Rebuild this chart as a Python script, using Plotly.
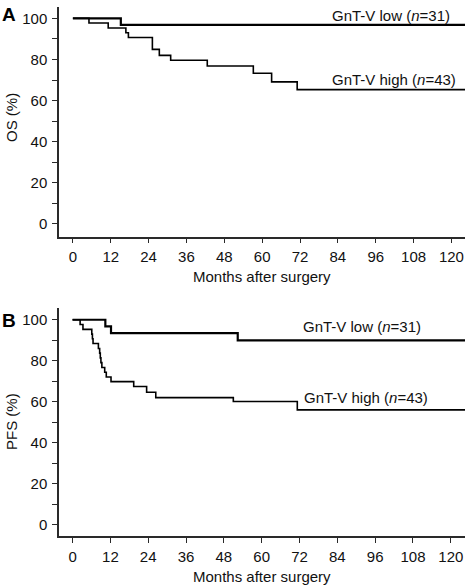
import plotly.graph_objects as go

# ---- data ----
os_low_t = [0, 15.2, 124.3]
os_low_s = [100, 96.8, 96.8]

os_high_t = [0, 5.1, 11.2, 16.8, 17.6, 25.2, 27.4, 31.0, 42.6, 57.2, 63.0, 71.1, 124.3]
os_high_s = [100, 97.7, 95.3, 93.0, 90.7, 84.9, 82.0, 79.6, 76.8, 73.3, 69.1, 65.3, 65.3]

pfs_low_t = [0, 10.4, 12.2, 52.4, 124.5]
pfs_low_s = [100, 96.8, 93.5, 89.9, 89.9]

pfs_high_t = [0, 2.4, 3.3, 6.1, 6.3, 6.5, 8.2, 8.6, 8.8, 9.0, 9.3, 10.2, 10.7, 12.2,
              19.4, 23.5, 26.4, 51.0, 71.3, 124.5]
pfs_high_s = [100, 97.7, 95.3, 93.0, 90.7, 88.4, 86.0, 83.7, 81.4, 79.1, 76.7, 74.4, 72.1, 69.8,
              67.4, 64.6, 62.0, 60.1, 56.0, 56.0]

x_ticks = [0, 12, 24, 36, 48, 60, 72, 84, 96, 108, 120]
y_ticks = [0, 20, 40, 60, 80, 100]

label_low = "GnT-V low (<i>n</i>=31)"
label_high = "GnT-V high (<i>n</i>=43)"

FONT = "Liberation Sans, Arial, Helvetica, sans-serif"
AX = "#2a2a2a"

fig = go.Figure()
fig.add_trace(go.Scatter(x=os_low_t, y=os_low_s, mode="lines", line=dict(shape="hv", color="black", width=2.2),
                         xaxis="x", yaxis="y", showlegend=False, hoverinfo="skip"))
fig.add_trace(go.Scatter(x=os_high_t, y=os_high_s, mode="lines", line=dict(shape="hv", color="black", width=1.6),
                         xaxis="x", yaxis="y", showlegend=False, hoverinfo="skip"))
fig.add_trace(go.Scatter(x=pfs_low_t, y=pfs_low_s, mode="lines", line=dict(shape="hv", color="black", width=2.2),
                         xaxis="x2", yaxis="y2", showlegend=False, hoverinfo="skip"))
fig.add_trace(go.Scatter(x=pfs_high_t, y=pfs_high_s, mode="lines", line=dict(shape="hv", color="black", width=1.6),
                         xaxis="x2", yaxis="y2", showlegend=False, hoverinfo="skip"))

W, H = 468, 588

def xax(rng, anchor):
    return dict(range=rng, domain=[59 / W, 465 / W], anchor=anchor, tickvals=x_ticks,
                showline=True, linecolor=AX, linewidth=1.5, ticks="outside", ticklen=5,
                tickwidth=1.3, tickcolor=AX, showgrid=False, zeroline=False,
                tickfont=dict(family=FONT, size=15, color="#111"), ticklabelstandoff=1,
                automargin=False, fixedrange=True)

def yax(rng, dom, anchor):
    return dict(range=rng, domain=dom, anchor=anchor, tickvals=y_ticks,
                showline=True, linecolor=AX, linewidth=1.5, ticks="outside", ticklen=5,
                tickwidth=1.3, tickcolor=AX, showgrid=False, zeroline=False,
                minor=dict(dtick=10, tick0=0, ticks="outside", ticklen=5, tickwidth=1.3, tickcolor=AX),
                tickfont=dict(family=FONT, size=15, color="#111"), ticklabelstandoff=2,
                automargin=False, fixedrange=True)

fig.update_layout(
    width=W, height=H, margin=dict(l=0, r=0, t=0, b=0),
    paper_bgcolor="white", plot_bgcolor="white",
    xaxis=xax([-4.4, 124.3], "y"),
    yaxis=yax([-6.2, 105.5], [1 - 236.7 / H, 1 - 7 / H], "x"),
    xaxis2=xax([-4.3, 124.5], "y2"),
    yaxis2=yax([-5.7, 105.6], [1 - 536.3 / H, 1 - 308.3 / H], "x2"),
)

txt = dict(family=FONT, size=15, color="#111")
C = dict(showarrow=False, xanchor="center", yanchor="middle")
ann = [
    dict(x=100.9, y=101.6, xref="x", yref="y", text=label_low, font=txt, **C),
    dict(x=101.9, y=70.0, xref="x", yref="y", text=label_high, font=txt, **C),
    dict(x=91.8, y=96.6, xref="x2", yref="y2", text=label_low, font=txt, **C),
    dict(x=93.0, y=61.9, xref="x2", yref="y2", text=label_high, font=txt, **C),
    dict(x=9 / W, y=1 - 15 / H, xref="paper", yref="paper", text="<b>A</b>",
         font=dict(family=FONT, size=19, color="black"), **C),
    dict(x=9 / W, y=1 - 320 / H, xref="paper", yref="paper", text="<b>B</b>",
         font=dict(family=FONT, size=19, color="black"), **C),
    dict(x=11 / W, y=1 - 118 / H, xref="paper", yref="paper", text="OS (%)", textangle=-90,
         font=txt, **C),
    dict(x=11 / W, y=1 - 422 / H, xref="paper", yref="paper", text="PFS (%)", textangle=-90,
         font=txt, **C),
    dict(x=262 / W, y=1 - 276 / H, xref="paper", yref="paper", text="Months after surgery",
         font=txt, **C),
    dict(x=262 / W, y=1 - 576 / H, xref="paper", yref="paper", text="Months after surgery",
         font=txt, **C),
]
fig.update_layout(annotations=ann)

fig.write_html("out.html", config={"displayModeBar": False},
               post_script="document.body.style.margin='0';document.body.style.padding='0';document.body.style.overflow='hidden';")
